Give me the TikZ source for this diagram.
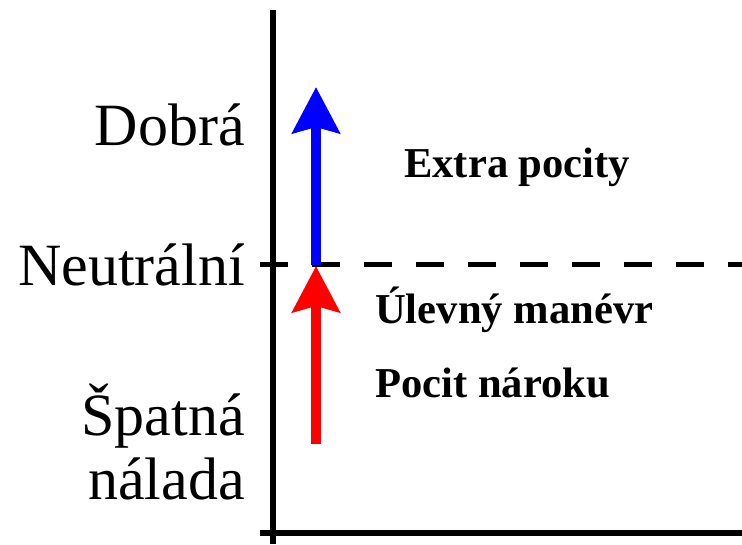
\documentclass[tikz,border=0pt]{standalone}
\usepackage{fontspec}
\setmainfont{Liberation Serif}
\usetikzlibrary{positioning,arrows.meta}

\begin{document}
\begin{tikzpicture}[x=1pt, y=-1pt]
    \tikzstyle{level} = [anchor=base east, align=right, inner sep=0pt, font=\fontsize{60}{64}\selectfont]
    \tikzstyle{effect} = [anchor=base west, inner sep=0pt, font=\fontsize{42.6}{48}\selectfont\bfseries]
    \tikzstyle{axis} = [line width=6pt, black]
    \tikzstyle{neutral} = [line width=5pt, black, dash pattern=on 28pt off 24pt]
    \tikzstyle{moodarrow} = [line width=10pt, -{Stealth[length=46pt, width=47pt, inset=6pt]}]

    \useasboundingbox (0,0) rectangle (742,544);

    % Axes
    \coordinate (ytop) at (273,10);
    \coordinate (ybottom) at (273,544);
    \coordinate (xleft) at (260,533);
    \coordinate (xright) at (742,533);
    \coordinate (nleft) at (260,264);
    \coordinate (nright) at (742,264);
    \draw [axis] (ytop) -- (ybottom);
    \draw [axis] (xleft) -- (xright);
    \draw [neutral] (nleft) -- (nright);

    % Mood levels
    \node [level] (good) at (245,145) {Dobrá};
    \node [level] (neutral) at (245,285) {Neutrální};
    \node [level] (bad) at (245,499) {Špatná\\nálada};

    % Effects
    \node [effect] (extra) at (404,177) {Extra pocity};
    \node [effect] (relief) at (375,323) {Úlevný manévr};
    \node [effect] (claim) at (375,397) {Pocit nároku};

    % Arrows
    \coordinate (redstart) at (316,444);
    \coordinate (mid) at (316,266);
    \coordinate (bluestart) at (316,265);
    \coordinate (bluetip) at (316,87);
    \draw [moodarrow, blue] (bluestart) -- (bluetip);
    \draw [moodarrow, red] (redstart) -- (mid);
\end{tikzpicture}
\end{document}
